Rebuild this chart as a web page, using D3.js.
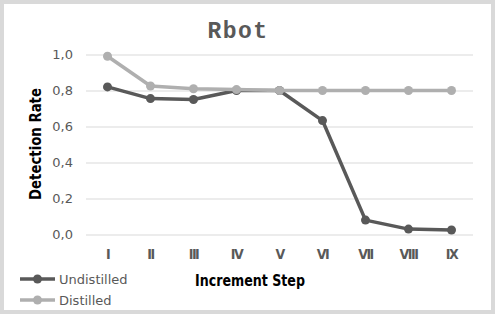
<!DOCTYPE html>
<html>
<head>
<meta charset="utf-8">
<script src="https://cdn.jsdelivr.net/npm/d3@7"></script>
<style>
  html, body { margin: 0; padding: 0; background: #fff; }
  svg { display: block; }
</style>
</head>
<body>
<svg id="chart" width="495" height="314"></svg>
<script>
// data
const steps = ["I", "II", "III", "IV", "V", "VI", "VII", "VIII", "IX"];
const undistilled = [0.82, 0.755, 0.75, 0.80, 0.80, 0.633, 0.08, 0.03, 0.025];
const distilled = [0.99, 0.825, 0.81, 0.805, 0.80, 0.80, 0.80, 0.80, 0.80];
const yTicks = [0, 0.2, 0.4, 0.6, 0.8, 1.0];

const series = [
  { name: "Undistilled", values: undistilled, color: "#595959" },
  { name: "Distilled", values: distilled, color: "#afafaf" }
];

const W = 495, H = 314;
const svg = d3.select("#chart");

// outer frame
svg.append("rect")
  .attr("x", 2).attr("y", 2)
  .attr("width", W - 4).attr("height", H - 4)
  .attr("fill", "#fff")
  .attr("stroke", "#d9d9d9")
  .attr("stroke-width", 4);

const x = d3.scaleBand().domain(steps).range([86, 473]);
const y = d3.scaleLinear().domain([0, 1]).range([234.5, 54.5]);

// gridlines + y labels
const yAxis = svg.append("g")
  .attr("transform", "translate(86,0)")
  .call(d3.axisLeft(y).tickValues(yTicks).tickSize(-(473 - 86)).tickPadding(13)
    .tickFormat(d => d3.format(".1f")(d).replace(".", ",")));
yAxis.select(".domain").remove();
yAxis.selectAll(".tick line").attr("stroke", "#d9d9d9").attr("stroke-width", 1);
yAxis.selectAll(".tick text")
  .attr("fill", "#595959")
  .attr("font-family", "DejaVu Sans")
  .attr("font-size", 13);

// x labels
const xAxis = svg.append("g")
  .attr("transform", "translate(0,234.5)")
  .call(d3.axisBottom(x).tickSize(0).tickPadding(15));
xAxis.select(".domain").remove();
xAxis.selectAll(".tick text")
  .attr("fill", "#595959")
  .attr("font-family", "DejaVu Sans Condensed, DejaVu Sans")
  .attr("font-weight", "bold")
  .attr("font-size", 14)
  .attr("letter-spacing", -1.5);

// lines
const line = d3.line()
  .x((d, i) => x(steps[i]) + x.bandwidth() / 2)
  .y(d => y(d));

series.forEach(s => {
  svg.append("path")
    .datum(s.values)
    .attr("fill", "none")
    .attr("stroke", s.color)
    .attr("stroke-width", 3.5)
    .attr("stroke-linejoin", "round")
    .attr("d", line);
  svg.append("g").selectAll("circle")
    .data(s.values)
    .join("circle")
    .attr("cx", (d, i) => x(steps[i]) + x.bandwidth() / 2)
    .attr("cy", d => y(d))
    .attr("r", 4.5)
    .attr("fill", s.color);
});

// title
svg.append("text")
  .attr("x", 238).attr("y", 38)
  .attr("text-anchor", "middle")
  .attr("font-family", "Liberation Mono")
  .attr("font-weight", "bold")
  .attr("font-size", 23)
  .attr("letter-spacing", 1.5)
  .attr("fill", "#595959")
  .text("Rbot");

// axis titles
svg.append("text")
  .attr("transform", "translate(41,144) rotate(-90)")
  .attr("text-anchor", "middle")
  .attr("font-family", "DejaVu Sans Condensed, DejaVu Sans")
  .attr("font-weight", "bold")
  .attr("font-size", 15)
  .attr("textLength", 112)
  .attr("lengthAdjust", "spacingAndGlyphs")
  .attr("fill", "#000")
  .text("Detection Rate");

svg.append("text")
  .attr("x", 250).attr("y", 286)
  .attr("text-anchor", "middle")
  .attr("font-family", "DejaVu Sans Condensed, DejaVu Sans")
  .attr("font-weight", "bold")
  .attr("font-size", 15)
  .attr("textLength", 110)
  .attr("lengthAdjust", "spacingAndGlyphs")
  .attr("fill", "#000")
  .text("Increment Step");

// legend
const legend = svg.append("g")
  .selectAll("g")
  .data(series)
  .join("g")
  .attr("transform", (d, i) => `translate(20,${279 + i * 21})`);
legend.append("line")
  .attr("x1", 0).attr("x2", 35)
  .attr("stroke", d => d.color)
  .attr("stroke-width", 3.5);
legend.append("circle")
  .attr("cx", 17.5).attr("r", 4.5)
  .attr("fill", d => d.color);
legend.append("text")
  .attr("x", 39).attr("y", 4.5)
  .attr("font-family", "DejaVu Sans")
  .attr("font-size", 13)
  .attr("fill", "#595959")
  .text(d => d.name);
</script>
</body>
</html>
